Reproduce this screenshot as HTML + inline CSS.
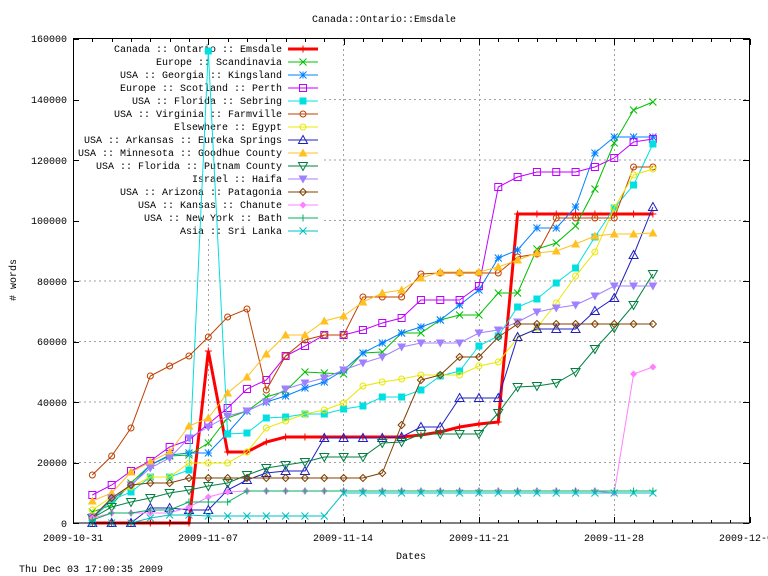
<!DOCTYPE html>
<html><head><meta charset="utf-8"><style>
body{margin:0;background:#fff;}
svg{display:block;font-family:"Liberation Mono","DejaVu Sans Mono",monospace;font-size:10px;}
</style></head><body>
<svg id="s" width="768" height="576" xmlns="http://www.w3.org/2000/svg">
<rect width="768" height="576" fill="#fff"/>
<g id="grid" stroke="#a0a0a0" stroke-dasharray="2,3" stroke-width="1"></g>
<rect x="74" y="40" width="250" height="196" fill="#fff"/>
<g id="ticks" stroke="#000" stroke-width="1"></g>
<g fill="#000" text-anchor="end">
<text x="67" y="42">160000</text>
<text x="67" y="103">140000</text>
<text x="67" y="164">120000</text>
<text x="67" y="224">100000</text>
<text x="67" y="285">80000</text>
<text x="67" y="345">60000</text>
<text x="67" y="406">40000</text>
<text x="67" y="466">20000</text>
<text x="67" y="527">0</text>
</g>
<g fill="#000" text-anchor="middle">
<text x="73" y="541">2009-10-31</text>
<text x="208" y="541">2009-11-07</text>
<text x="343" y="541">2009-11-14</text>
<text x="479" y="541">2009-11-21</text>
<text x="614" y="541">2009-11-28</text>
<text x="749" y="541">2009-12-05</text>
<text x="411" y="559">Dates</text>
<text x="384" y="22">Canada::Ontario::Emsdale</text>
<text transform="translate(16,280) rotate(-90)"># words</text>
</g>
<text x="19" y="572">Thu Dec 03 17:00:35 2009</text>
<g text-anchor="end" fill="#000">
<text x="282" y="52">Canada :: Ontario :: Emsdale</text>
<text x="282" y="65">Europe :: Scandinavia</text>
<text x="282" y="78">USA :: Georgia :: Kingsland</text>
<text x="282" y="91">Europe :: Scotland :: Perth</text>
<text x="282" y="104">USA :: Florida :: Sebring</text>
<text x="282" y="117">USA :: Virginia :: Farmville</text>
<text x="282" y="130">Elsewhere :: Egypt</text>
<text x="282" y="143">USA :: Arkansas :: Eureka Springs</text>
<text x="282" y="156">USA :: Minnesota :: Goodhue County</text>
<text x="282" y="169">USA :: Florida :: Putnam County</text>
<text x="282" y="182">Israel :: Haifa</text>
<text x="282" y="195">USA :: Arizona :: Patagonia</text>
<text x="282" y="208">USA :: Kansas :: Chanute</text>
<text x="282" y="221">USA :: New York :: Bath</text>
<text x="282" y="234">Asia :: Sri Lanka</text>
</g>
<g id="data"></g>
<rect x="73.5" y="38.5" width="676" height="484.5" fill="none" stroke="#000" stroke-width="1"/>
</svg>
<script>
var NS="http://www.w3.org/2000/svg";
function el(t,a,p){var e=document.createElementNS(NS,t);for(var k in a)e.setAttribute(k,a[k]);p.appendChild(e);return e;}
var g=document.getElementById('grid'),tk=document.getElementById('ticks'),d=document.getElementById('data');
var gx=[208,343,479,614],gy=[99.5,160,220.5,281,341.5,402,462.5];
gx.forEach(function(x){el('line',{x1:x+.5,y1:39,x2:x+.5,y2:523},g);});
gy.forEach(function(y){el('line',{x1:74,y1:y,x2:749,y2:y},g);});
for(var i=0;i<=9;i++){var y=523-i*60.5;y=Math.round(y)+.5;el('line',{x1:73,y1:y,x2:79,y2:y},tk);el('line',{x1:743,y1:y,x2:749,y2:y},tk);}
for(var dd=0;dd<=35;dd++){var x=Math.round(73+dd*19.33)+.5;var L=(dd%7==0)?6:3;el('line',{x1:x,y1:523,x2:x,y2:523-L},tk);el('line',{x1:x,y1:39,x2:x,y2:39+L},tk);}
function X(i){return 73+(i+1)*19.33;}
var S=[
["#ff0000","plus",3,[523,523,523,523,523,523,351,452,452,442,437,437,437,437,437,437,437,435,432,427,424,422,214,214,214,214,214,214,214,214]],
["#00c000","x",1,[512,505,483,465,456,455,443,418,411,397,391,372,373,374,353,352,333,333,320,315,315,293,293,249,243,226,189,143,110,102]],
["#0080ff","star",1,[517,500,486,465,455,453,453,433,411,402,396,388,382,370,353,343,333,327,320,305,290,258,250,228,228,207,153,137,137,137]],
["#c000ff","sq",1,[495,485,471,461,447,440,424,408,389,380,356,346,335,335,330,323,318,300,300,300,286,187,177,172,172,172,167,158,142,139]],
["#00e0e0","fsq",1,[519,500,492,477,477,470,51,434,433,418,417,414,414,409,406,397,397,390,376,371,346,336,307,299,283,268,237,208,185,144]],
["#c04000","circ",1,[475,456,428,376,366,356,337,317,309,390,356,340,335,335,297,297,297,274,273,273,273,273,257,254,218,218,218,218,167,167]],
["#e8e800","circ",1,[510,497,487,477,477,463,463,463,452,428,421,414,410,403,386,382,379,375,375,375,366,362,338,328,303,276,252,208,175,169]],
["#2020c0","tri",1,[523,523,523,508,508,510,510,490,480,473,471,471,438,438,438,438,437,427,427,398,398,398,337,329,329,329,311,298,255,207]],
["#ffc020","ftri",1,[501,493,472,462,452,426,418,393,377,354,335,335,321,316,302,293,290,278,272,272,272,267,260,253,251,244,236,234,234,233]],
["#008040","dtri",1,[518,507,502,498,493,490,486,483,475,468,465,462,457,457,457,443,442,434,434,434,434,413,387,386,383,372,349,328,305,274]],
["#a080ff","fdtri",1,[517,498,485,468,458,438,427,416,411,402,389,383,378,370,363,357,347,343,343,343,333,330,322,312,308,305,296,286,286,286]],
["#804000","diam",1,[518,498,485,483,483,478,478,478,478,478,478,478,478,478,478,473,425,380,375,357,357,337,324,324,324,324,324,324,324,324]],
["#ff80ff","fdiam",1,[518,513,513,513,513,507,497,492,491,491,491,491,491,491,491,491,491,491,491,491,491,491,491,491,491,491,491,493,374,367]],
["#00b060","plus",1,[520,513,513,510,510,502,502,502,491,491,491,491,491,491,491,491,491,491,491,491,491,491,491,491,491,491,491,491,491,491]],
["#00c0c0","x",1,[523,523,523,518,515,515,516,516,516,516,516,516,516,493,493,493,493,493,493,493,493,493,493,493,493,493,493,493,493,493]]
];
function mark(t,x,y,c,p){var r=3.5;
switch(t){
case 'plus':el('path',{d:'M'+(x-r)+' '+y+'H'+(x+r)+'M'+x+' '+(y-r)+'V'+(y+r),stroke:c,'stroke-width':1},p);break;
case 'x':el('path',{d:'M'+(x-r)+' '+(y-r)+'L'+(x+r)+' '+(y+r)+'M'+(x-r)+' '+(y+r)+'L'+(x+r)+' '+(y-r),stroke:c},p);break;
case 'star':el('path',{d:'M'+(x-r)+' '+(y-r)+'L'+(x+r)+' '+(y+r)+'M'+(x-r)+' '+(y+r)+'L'+(x+r)+' '+(y-r)+'M'+(x-r)+' '+y+'H'+(x+r)+'M'+x+' '+(y-r)+'V'+(y+r),stroke:c},p);break;
case 'sq':el('rect',{x:x-r,y:y-r,width:2*r,height:2*r,stroke:c,fill:'none'},p);break;
case 'fsq':el('rect',{x:x-r,y:y-r,width:2*r,height:2*r,fill:c},p);break;
case 'circ':el('circle',{cx:x,cy:y,r:3,stroke:c,fill:'none'},p);break;
case 'tri':el('path',{d:'M'+x+' '+(y-r-1)+'L'+(x+r+1)+' '+(y+r)+'H'+(x-r-1)+'Z',stroke:c,fill:'none'},p);break;
case 'ftri':el('path',{d:'M'+x+' '+(y-r-1)+'L'+(x+r+1)+' '+(y+r)+'H'+(x-r-1)+'Z',fill:c},p);break;
case 'dtri':el('path',{d:'M'+x+' '+(y+r+1)+'L'+(x+r+1)+' '+(y-r)+'H'+(x-r-1)+'Z',stroke:c,fill:'none'},p);break;
case 'fdtri':el('path',{d:'M'+x+' '+(y+r+1)+'L'+(x+r+1)+' '+(y-r)+'H'+(x-r-1)+'Z',fill:c},p);break;
case 'diam':el('path',{d:'M'+x+' '+(y-r)+'L'+(x+r)+' '+y+'L'+x+' '+(y+r)+'L'+(x-r)+' '+y+'Z',stroke:c,fill:'none'},p);break;
case 'fdiam':el('path',{d:'M'+x+' '+(y-r)+'L'+(x+r)+' '+y+'L'+x+' '+(y+r)+'L'+(x-r)+' '+y+'Z',fill:c},p);break;
}}
S.forEach(function(s,k){
 var pts=s[3].map(function(v,i){return X(i).toFixed(1)+','+v;}).join(' ');
 el('polyline',{points:pts,fill:'none',stroke:s[0],'stroke-width':s[2]},d);
 s[3].forEach(function(v,i){mark(s[1],X(i),v,s[0],d);});
 var ly=49+k*13;
 el('line',{x1:288,y1:ly,x2:318,y2:ly,stroke:s[0],'stroke-width':s[2]},d);
 mark(s[1],303,ly,s[0],d);
});
</script>
</body></html>
